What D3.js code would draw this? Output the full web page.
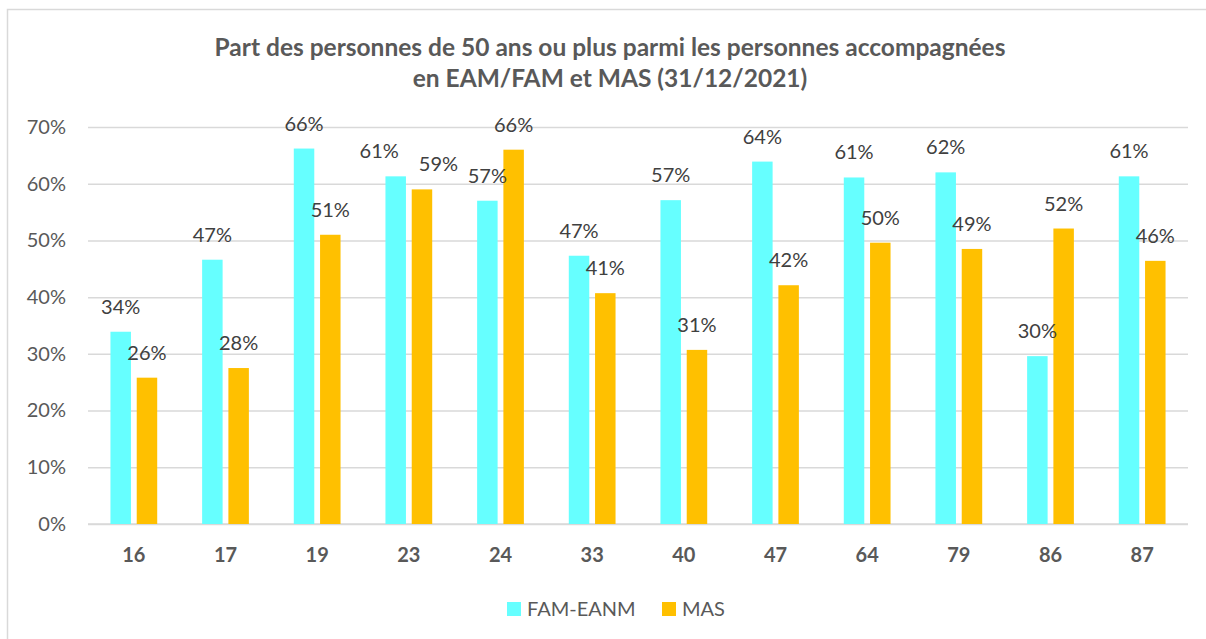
<!DOCTYPE html>
<html><head><meta charset="utf-8">
<script src="https://cdn.jsdelivr.net/npm/d3@7"></script>
<style>body{margin:0;background:#fff;}svg{display:block;font-family:Lato,"Open Sans",sans-serif;}</style>
</head><body>
<svg id="c" width="1206" height="639"></svg>
<script>
const categories = ["16","17","19","23","24","33","40","47","64","79","86","87"];
const famEanm = [33.9, 46.6, 66.2, 61.3, 57.0, 47.3, 57.1, 63.9, 61.1, 62.0, 29.6, 61.3];
const mas = [25.8, 27.5, 51.0, 59.0, 66.0, 40.7, 30.7, 42.1, 49.6, 48.5, 52.1, 46.4];
const seriesNames = ["FAM-EANM", "MAS"];
const seriesColors = ["#66FFFF", "#FFC000"];
const yTicks = [0, 10, 20, 30, 40, 50, 60, 70];
const titleLines = ["Part des personnes de 50 ans ou plus parmi les personnes accompagnées", "en EAM/FAM et MAS (31/12/2021)"];

(function () {
const svg = d3.select("#c");
svg.append("rect").attr("x", 7.5).attr("y", 9.5).attr("width", 1230).attr("height", 660)
  .attr("fill", "#fff").attr("stroke", "#d9d9d9").attr("stroke-width", 1.5);

const pl = 88, pr = 1188, pt = 127, pb = 524;
const x = d3.scaleBand().domain(categories).range([pl, pr]).paddingInner(0.49).paddingOuter(0.245);
const sub = d3.scaleBand().domain(seriesNames).range([0, x.bandwidth()]).paddingInner(0.22);
const y = d3.scaleLinear().domain([0, 70]).range([pb, pt]);

svg.append("g").selectAll("text").data(titleLines).join("text")
  .attr("x", 610).attr("y", (d, i) => 56 + i * 31)
  .attr("text-anchor", "middle").attr("font-size", 24.5).attr("font-weight", "bold").attr("fill", "#595959")
  .text(d => d);

const yAxis = d3.axisLeft(y).tickValues(yTicks).tickFormat(d => d + "%").tickSize(-(pr - pl)).tickPadding(22);
const gy = svg.append("g").attr("transform", `translate(${pl},0)`).call(yAxis);
gy.select(".domain").remove();
gy.selectAll(".tick line").attr("stroke", "#d9d9d9").attr("stroke-width", 1.5);
gy.selectAll(".tick text").attr("font-size", 20).attr("fill", "#595959").attr("font-family", "Lato,sans-serif");

const xAxis = d3.axisBottom(x).tickSize(0).tickPadding(24);
const gx = svg.append("g").attr("transform", `translate(0,${pb})`).call(xAxis);
gx.select(".domain").attr("stroke", "#d9d9d9").attr("stroke-width", 1.5).attr("d", `M${pl},0H${pr}`);
gx.selectAll(".tick text").attr("font-size", 20).attr("font-weight", "bold").attr("fill", "#595959").attr("font-family", "Lato,sans-serif");

const rows = categories.map((c, i) => ({c, vals: [famEanm[i], mas[i]]}));
const groups = svg.append("g").selectAll("g").data(rows).join("g")
  .attr("transform", d => `translate(${x(d.c)},0)`);
groups.selectAll("rect").data(d => d.vals.map((v, j) => ({v, j}))).join("rect")
  .attr("x", d => sub(seriesNames[d.j])).attr("width", sub.bandwidth())
  .attr("y", d => y(d.v)).attr("height", d => pb - y(d.v))
  .attr("fill", d => seriesColors[d.j]);

const lblG = svg.append("g");
rows.forEach(r => {
  const labs = r.vals.map((v, j) => {
    const t = lblG.append("text").attr("text-anchor", "middle").attr("font-size", 20).attr("fill", "#404040")
      .text(Math.round(v) + "%");
    return {t, cx: x(r.c) + sub(seriesNames[j]) + sub.bandwidth() / 2, cy: y(v) - 25, w: t.node().getComputedTextLength()};
  });
  const a = labs[0], b = labs[1];
  if (Math.abs(a.cy - b.cy) < 22 && Math.abs(a.cx - b.cx) < a.w + 4) {
    const need = (a.w + 20 - Math.abs(a.cx - b.cx)) / 2;
    a.cx -= need; b.cx += need;
  }
  labs.forEach(l => l.t.attr("x", l.cx).attr("y", l.cy).attr("dy", "0.35em"));
});

const legend = svg.append("g");
const items = [{n: seriesNames[0], c: seriesColors[0], x: 507}, {n: seriesNames[1], c: seriesColors[1], x: 662}];
items.forEach(it => {
  legend.append("rect").attr("x", it.x).attr("y", 602).attr("width", 14).attr("height", 14).attr("fill", it.c);
  legend.append("text").attr("x", it.x + 20).attr("y", 609).attr("dy", "0.35em").attr("font-size", 20).attr("fill", "#595959").text(it.n);
});
})();
</script>
</body></html>
